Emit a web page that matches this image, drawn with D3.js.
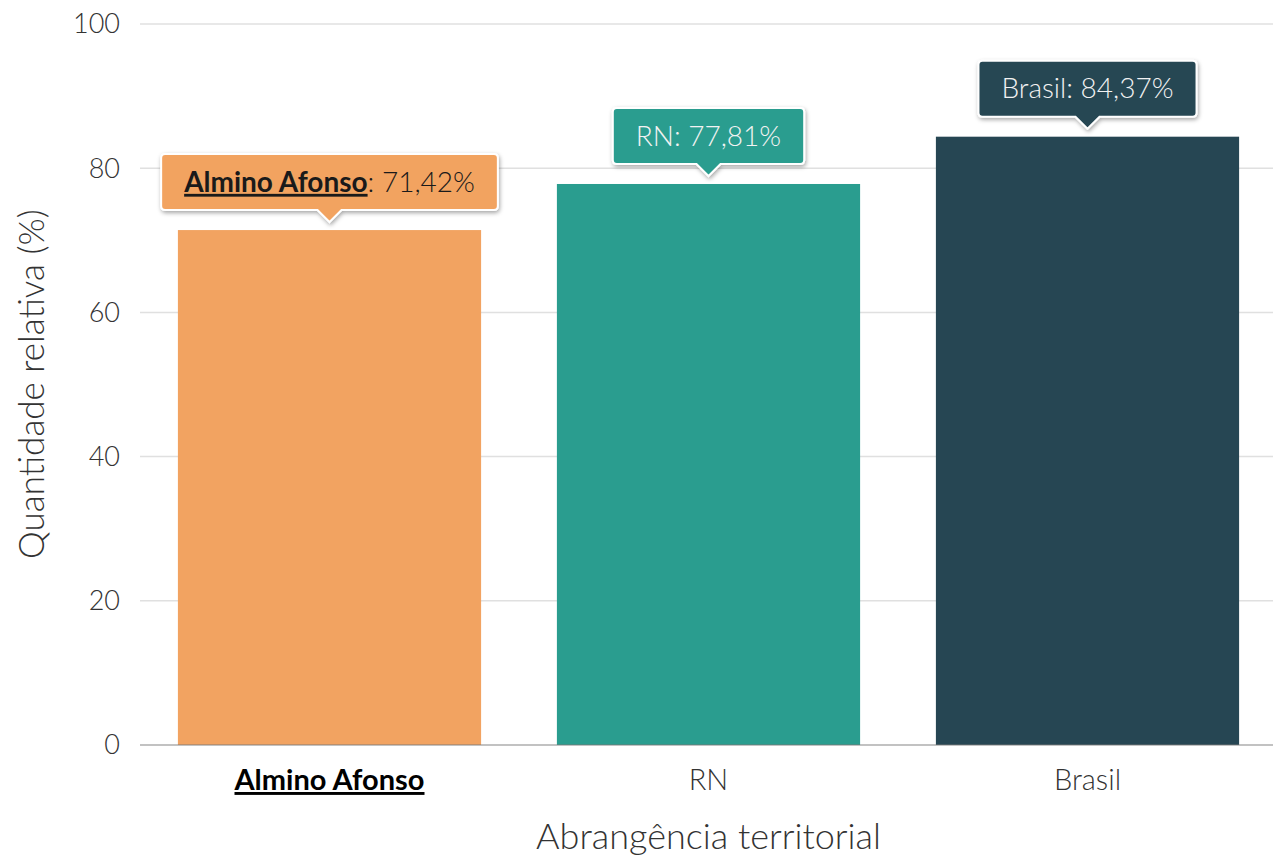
<!DOCTYPE html>
<html><head><meta charset="utf-8">
<script src="https://cdn.jsdelivr.net/npm/d3@7"></script>
<style>
html,body{margin:0;padding:0;background:#fff;}
svg{display:block;font-family:Lato,"Open Sans",sans-serif;}
.lt{font-family:"Lato Light",Lato,sans-serif;font-weight:300;}
.bd{font-family:Lato,sans-serif;font-weight:700;}
</style></head>
<body>
<svg id="chart" width="1273" height="858"></svg>
<script>
const categories = ["Almino Afonso", "RN", "Brasil"];
const values = [71.42, 77.81, 84.37];
const valueLabels = ["71,42%", "77,81%", "84,37%"];
const colors = ["#F2A361", "#2A9D8F", "#264653"];
const tooltipTextColors = ["#1a1a1a", "#f2f2f2", "#f2f2f2"];
const yTicks = [0, 20, 40, 60, 80, 100];
const highlighted = "Almino Afonso";

(function(){
const svg = d3.select("#chart");
const mLeft = 140, mRight = 1277, mTop = 24, mBottom = 745;

const x = d3.scaleBand().domain(categories).range([mLeft, mRight]).paddingInner(0.2).paddingOuter(0.1);
const y = d3.scaleLinear().domain([0, 100]).range([mBottom, mTop]);

const defs = svg.append("defs");
const f = defs.append("filter").attr("id","shadow").attr("x","-20%").attr("y","-30%").attr("width","140%").attr("height","170%");
f.append("feDropShadow").attr("dx",1).attr("dy",2).attr("stdDeviation",2).attr("flood-color","#000").attr("flood-opacity",0.35);

// gridlines
svg.append("g").selectAll("line").data(yTicks.filter(d=>d>0)).join("line")
  .attr("x1", mLeft).attr("x2", 1273).attr("y1", d=>y(d)).attr("y2", d=>y(d))
  .attr("stroke", "#e0e0e0").attr("stroke-width", 1.5);

// y tick labels
svg.append("g").selectAll("text").data(yTicks).join("text")
  .attr("class","lt")
  .attr("x", 120).attr("y", d=>y(d)).attr("dy","0.35em")
  .attr("text-anchor","end").attr("font-size", 27).attr("fill","#333")
  .text(d=>d);

// bars
svg.append("g").selectAll("rect").data(categories).join("rect")
  .attr("x", d=>x(d)).attr("width", x.bandwidth())
  .attr("y", (d,i)=>y(values[i])).attr("height", (d,i)=>y(0)-y(values[i]))
  .attr("fill", (d,i)=>colors[i]);

// x axis line
svg.append("line").attr("x1", mLeft).attr("x2", 1273).attr("y1", mBottom).attr("y2", mBottom)
  .attr("stroke", "rgba(120,120,120,0.45)").attr("stroke-width", 2);

// x tick labels
svg.append("g").selectAll("text").data(categories).join("text")
  .attr("class", d=>d===highlighted?"bd":"lt")
  .attr("x", d=>x(d)+x.bandwidth()/2).attr("y", 790)
  .attr("text-anchor","middle").attr("font-size", 29)
  .attr("fill", d=>d===highlighted?"#000":"#333")
  .attr("text-decoration", d=>d===highlighted?"underline":null)
  .text(d=>d);

// axis titles
svg.append("text").attr("class","lt").attr("x", (mLeft+mRight)/2).attr("y", 849)
  .attr("text-anchor","middle").attr("font-size", 36).attr("fill","#333")
  .text("Abrangência territorial");
svg.append("text").attr("class","lt").attr("transform","translate(44,384) rotate(-90)")
  .attr("text-anchor","middle").attr("font-size", 35).attr("fill","#333")
  .text("Quantidade relativa (%)");

// tooltips
categories.forEach((c,i)=>{
  const cx = x(c)+x.bandwidth()/2;
  const tipY = y(values[i]) - 8;
  const arrowH = 12, arrowW = 12, boxH = 56, r = 4;
  const g = svg.append("g");
  const path = g.append("path");
  const t = g.append("text").attr("font-size", 28).attr("fill", tooltipTextColors[i])
    .attr("text-anchor","middle").attr("y", tipY - arrowH - boxH/2).attr("dy","0.35em").attr("x", cx);
  if (c === highlighted) {
    t.append("tspan").attr("class","bd").attr("text-decoration","underline").text(c);
    t.append("tspan").attr("class","lt").text(": " + valueLabels[i]);
  } else {
    t.append("tspan").attr("class","lt").text(c + ": " + valueLabels[i]);
  }
  const tw = t.node().getComputedTextLength();
  const bw = tw + 46;
  const x0 = cx - bw/2, x1 = cx + bw/2, y1 = tipY - arrowH, y0 = y1 - boxH;
  const d = `M${x0+r},${y0} H${x1-r} Q${x1},${y0} ${x1},${y0+r} V${y1-r} Q${x1},${y1} ${x1-r},${y1}
    H${cx+arrowW} L${cx},${tipY} L${cx-arrowW},${y1} H${x0+r} Q${x0},${y1} ${x0},${y1-r} V${y0+r} Q${x0},${y0} ${x0+r},${y0} Z`;
  path.attr("d", d).attr("fill", colors[i]).attr("stroke","#fff").attr("stroke-width",2).attr("filter","url(#shadow)");
});
})();
</script>
</body></html>
